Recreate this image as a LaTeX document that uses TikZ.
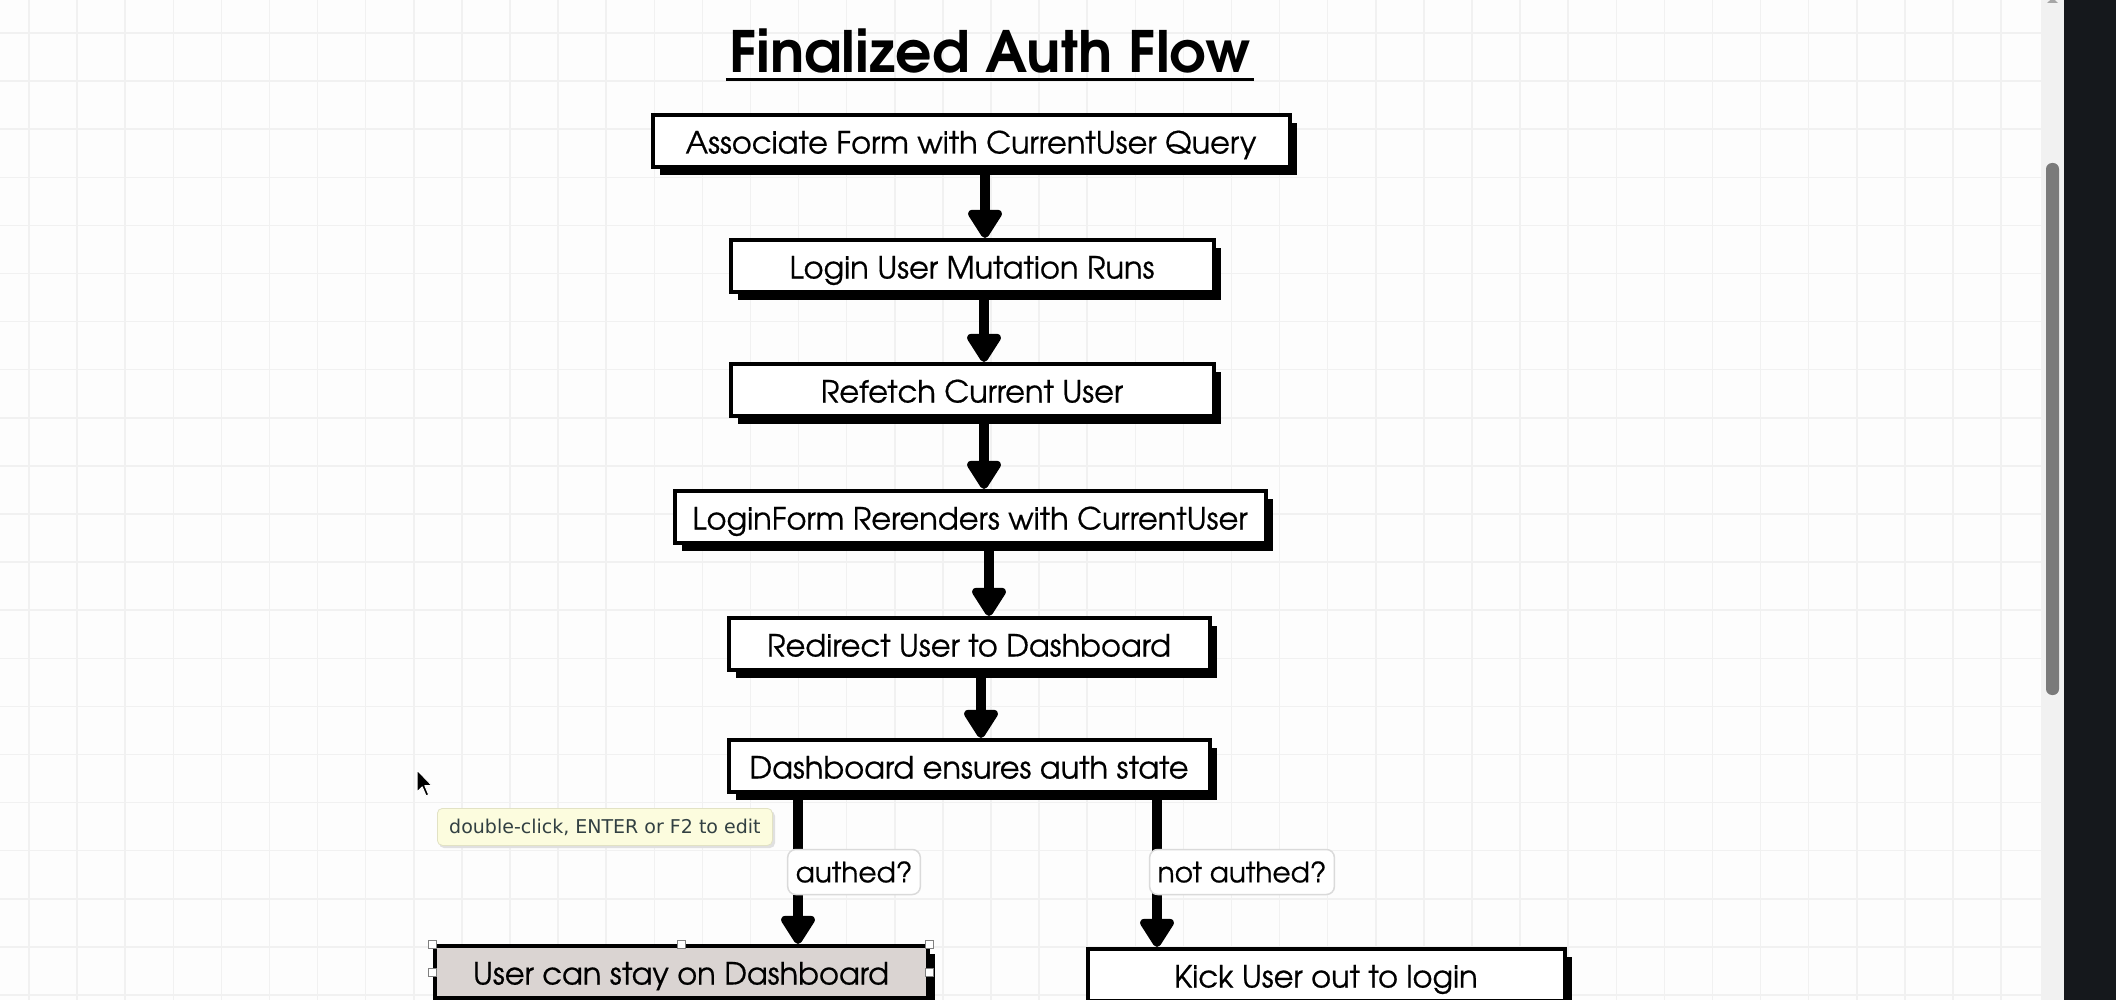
\documentclass[tikz,border=0pt]{standalone}
\usepackage{fontspec}
\setmainfont{TeX Gyre Adventor}
\newfontfamily\boxfont[FakeBold=0.6]{TeX Gyre Adventor}
\newfontfamily\tipfont{DejaVu Sans}
\usetikzlibrary{arrows.meta,shadows}
\definecolor{bgc}{HTML}{FDFDFD}
\definecolor{gridc}{HTML}{F1F1F1}
\definecolor{selfill}{RGB}{218,212,210}
\definecolor{tipfill}{RGB}{252,252,222}
\definecolor{tipborder}{RGB}{226,226,196}
\definecolor{tiptext}{RGB}{50,64,66}
\definecolor{lblborder}{HTML}{DADADA}
\definecolor{trackc}{HTML}{F1F1F1}
\definecolor{panelc}{HTML}{15181C}
\definecolor{thumbc}{HTML}{7A7A7A}
\begin{document}
\begin{tikzpicture}[x=1pt,y=-1pt,
  flowbox/.style={draw=black, line width=4pt, fill=white, minimum height=52pt,
    inner sep=0pt, text height=25pt, text depth=0pt,
    font=\boxfont\fontsize{30.5}{34}\selectfont,
    drop shadow={shadow xshift=7pt, shadow yshift=-8pt, fill=black, opacity=1}},
  flowarrow/.style={line width=10pt, -{Triangle[width=38pt,length=32pt,round]}},
  lbl/.style={draw=lblborder, fill=white, rounded corners=8pt, line width=1.5pt,
    minimum height=45pt, inner xsep=8pt, font=\boxfont\fontsize{28}{32}\selectfont},
  handle/.style={draw=gray, fill=white, line width=1pt, minimum size=8pt, inner sep=0pt}
]
\useasboundingbox (0,0) rectangle (2116,1000);
\clip (0,0) rectangle (2116,1000);
% background and grid
\fill[bgc] (0,0) rectangle (2116,1000);
\foreach \i in {0,...,42} {
  \draw[gridc, line width=1.5pt] ({29+48.1*\i},0) -- ({29+48.1*\i},1000);
}
\foreach \j in {0,...,20} {
  \draw[gridc, line width=1.5pt] (0,{33+48.1*\j}) -- (2041,{33+48.1*\j});
}
% scrollbar and side panel
\fill[trackc] (2041,0) rectangle (2064,1000);
\fill[panelc] (2064,0) rectangle (2116,1000);
\fill[thumbc, rounded corners=6pt] (2046,163) rectangle (2059,695);
\fill[gray!70] (2047,3) -- (2052.5,-2) -- (2058,3) -- cycle;

% title
\node[inner sep=0pt, font=\fontsize{57}{62}\selectfont\bfseries] (title) at (990,51) {Finalized Auth Flow};
\draw[line width=3pt] ([xshift=-3pt,yshift=-6pt]title.south west) -- ([xshift=3pt,yshift=-6pt]title.south east);

% boxes
\node[flowbox, minimum width=637pt] (b1) at (971,141) {Associate Form with CurrentUser Query};
\node[flowbox, minimum width=483pt] (b2) at (972,266) {Login User Mutation Runs};
\node[flowbox, minimum width=483pt] (b3) at (972,390) {Refetch Current User};
\node[flowbox, minimum width=591pt] (b4) at (970,517) {LoginForm Rerenders with CurrentUser};
\node[flowbox, minimum width=481pt] (b5) at (969,644) {Redirect User to Dashboard};
\node[flowbox, minimum width=481pt] (b6) at (969,766) {Dashboard ensures auth state};
\node[flowbox, minimum width=493pt, fill=selfill] (b7) at (681,972) {User can stay on Dashboard};
\node[flowbox, minimum width=477pt] (b8) at (1326,975) {Kick User out to login};

% arrows
\draw[flowarrow] (b1.south -| 985,0) -- (b2.north -| 985,0);
\draw[flowarrow] (b2.south -| 984,0) -- (b3.north -| 984,0);
\draw[flowarrow] (b3.south -| 984,0) -- (b4.north -| 984,0);
\draw[flowarrow] (b4.south -| 989,0) -- (b5.north -| 989,0);
\draw[flowarrow] (b5.south -| 981,0) -- (b6.north -| 981,0);
\draw[flowarrow] (b6.south -| 798,0) -- (b7.north -| 798,0);
\draw[flowarrow] (b6.south -| 1157,0) -- (b8.north -| 1157,0);

% edge labels
\node[lbl] (l1) at (854,872) {authed?};
\node[lbl] (l2) at (1242,872) {not authed?};

% selection handles on b7
\node[handle] (h1) at (b7.north west) {};
\node[handle] (h2) at (b7.north) {};
\node[handle] (h3) at (b7.north east) {};
\node[handle] (h4) at (b7.west) {};
\node[handle] (h5) at (b7.east) {};

% tooltip
\fill[black!12, rounded corners=5pt] (439,811) rectangle (775,848);
\node[draw=tipborder, fill=tipfill, rounded corners=5pt, line width=0.8pt,
  minimum width=335pt, minimum height=37pt, inner sep=0pt, anchor=north west,
  text=tiptext, font=\tipfont\fontsize{19}{22}\selectfont] (tip) at (437,808)
  {double-click, ENTER or F2 to edit};

% mouse cursor
\draw[fill=black, draw=white, line width=1pt, line join=round, shift={(417,770)}, scale=1.3]
  (0,0) -- (0,17) -- (4,13) -- (7,20) -- (9,19) -- (6,12) -- (11.5,12) -- cycle;
\end{tikzpicture}
\end{document}
